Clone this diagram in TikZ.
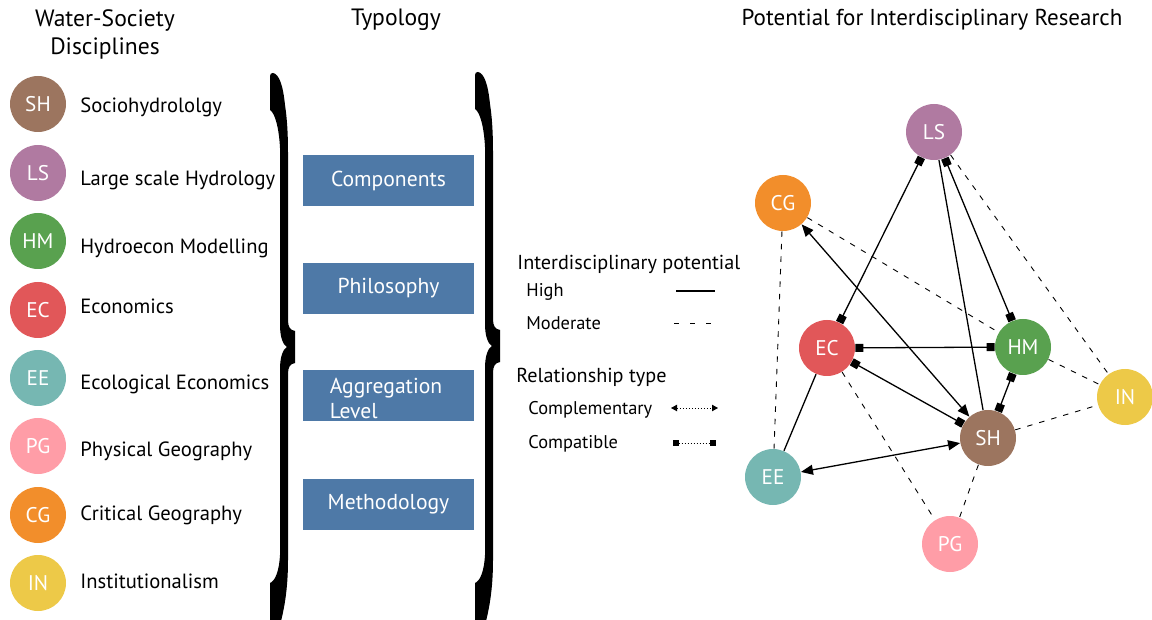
\documentclass[tikz,border=0pt]{standalone}
\usepackage{fontspec}
\setmainfont{PT Sans}
\usetikzlibrary{arrows.meta}
\definecolor{cSH}{HTML}{9C755F}
\definecolor{cLS}{HTML}{B07AA1}
\definecolor{cHM}{HTML}{59A14F}
\definecolor{cEC}{HTML}{E15759}
\definecolor{cEE}{HTML}{76B7B2}
\definecolor{cPG}{HTML}{FF9DA7}
\definecolor{cCG}{HTML}{F28E2B}
\definecolor{cIN}{HTML}{EDC948}
\definecolor{cBox}{HTML}{4E79A7}
\newcommand{\bigbrace}[4]{% x0, ytop, ymid, ybot
  \fill (#1,#2+3) .. controls (#1,#2+1) and (#1+1,#2) .. (#1+3,#2)
    .. controls (#1+9,#2+1) and (#1+13,#2+12) .. (#1+15,#2+32)
    .. controls (#1+17,#2+45) and (#1+18,#2+60) .. (#1+18,#2+80)
    -- (#1+18,#3-27) .. controls (#1+18,#3-20) and (#1+20,#3-17) .. (#1+25,#3-16)
    -- (#1+25,#3+16) .. controls (#1+20,#3+17) and (#1+18,#3+20) .. (#1+18,#3+27)
    -- (#1+18,#4-60) .. controls (#1+18,#4-30) and (#1+14,#4-10) .. (#1+10,#4+5)
    -- (#1,#4+5) -- (#1,#4-37) .. controls (#1+5,#4-39) and (#1+9,#4-48) .. (#1+10,#4-65)
    -- (#1+10,#3+22) .. controls (#1+10,#3+10) and (#1+13,#3+2) .. (#1+17,#3)
    .. controls (#1+13,#3-2) and (#1+10,#3-10) .. (#1+10,#3-22)
    -- (#1+10,#2+75) .. controls (#1+9,#2+55) and (#1+5,#2+40) .. (#1,#2+37) -- cycle;}
\begin{document}
\begin{tikzpicture}[x=0.5pt,y=-0.5pt,
  disc/.style={circle,fill=#1,minimum size=28pt,inner sep=0pt,text=white,font=\fontsize{10.6}{12}\selectfont},
  lab/.style={anchor=base west,inner sep=0pt,font=\fontsize{10.3}{12}\selectfont},
  title/.style={inner sep=0pt,align=center,font=\fontsize{11.8}{14}\selectfont},
  tybox/.style={fill=cBox,minimum width=85.5pt,minimum height=25.5pt,inner sep=0pt,text=white,font=\fontsize{10.8}{12}\selectfont},
  boxtxt/.style={inner sep=0pt,text=white,font=\fontsize{10.8}{12.5}\selectfont},
  legA/.style={anchor=west,inner sep=0pt,font=\fontsize{10.1}{12}\selectfont},
  legB/.style={anchor=west,inner sep=0pt,font=\fontsize{9.2}{11}\selectfont},
  high/.style={line width=0.65pt},
  mod/.style={line width=0.45pt,dash pattern=on 2.75pt off 3.5pt},
  compat/.style={{Square[length=4pt,width=4pt]}-{Square[length=4pt,width=4pt]}},
  compl/.style={{Triangle[length=6pt,width=5pt]}-{Triangle[length=6pt,width=5pt]}},
  dotl/.style={line width=0.4pt,dash pattern=on 0.5pt off 1pt}]
\useasboundingbox (0,0) rectangle (1152,620);
% titles
\node[title] (t1) at (105,34) {Water-Society\\Disciplines};
\node[title] (t2) at (396,20) {Typology};
\node[title,font=\fontsize{11.5}{14}\selectfont] (t3) at (932,20) {Potential for Interdisciplinary Research};
% left list
\node[disc=cSH] (lSH) at (38,104) {SH}; \node[lab] (tSH) at (80,113) {Sociohydrololgy};
\node[disc=cLS] (lLS) at (38,173) {LS}; \node[lab] (tLS) at (80,186) {Large scale Hydrology};
\node[disc=cHM] (lHM) at (38,241) {HM}; \node[lab] (tHM) at (80,254) {Hydroecon Modelling};
\node[disc=cEC] (lEC) at (38,310) {EC}; \node[lab] (tEC) at (80,314) {Economics};
\node[disc=cEE] (lEE) at (38,378) {EE}; \node[lab] (tEE) at (80,390) {Ecological Economics};
\node[disc=cPG] (lPG) at (38,446) {PG}; \node[lab] (tPG) at (80,456) {Physical Geography};
\node[disc=cCG] (lCG) at (38,515) {CG}; \node[lab] (tCG) at (80,520) {Critical Geography};
\node[disc=cIN] (lIN) at (38,583) {IN}; \node[lab] (tIN) at (80,588) {Institutionalism};
% braces
\bigbrace{270}{73}{347}{620}
\bigbrace{475}{72}{346}{620}
% typology boxes
\node[tybox] (b1) at (388.5,180.5) {Components};
\node[tybox] (b2) at (388.5,288.5) {Philosophy};
\node[tybox] (b3) at (388.5,395.5) {};
\node[boxtxt,align=left] (b3t) at (386,398) {Aggregation\\Level};
\node[tybox] (b4) at (388.5,504.5) {Methodology};
% legend
\node[legA] (lg1) at (517,264) {Interdisciplinary potential};
\node[legB] (lgH) at (526,292) {High};
\node[legB] (lgM) at (526,323) {Moderate};
\coordinate (h1) at (676,291); \coordinate (h2) at (715,291);
\draw[high] (h1) -- (h2);
\coordinate (m1) at (674,323); \coordinate (m2) at (715,323);
\draw[line width=0.45pt,dash pattern=on 2.5pt off 5.5pt] (m1) -- (m2);
\node[legA] (lg2) at (516,377) {Relationship type};
\node[legB] (lgC) at (528,410) {Complementary};
\node[legB] (lgP) at (528,444) {Compatible};
\coordinate (c1) at (671,408); \coordinate (c2) at (718,408);
\draw[dotl,{Triangle[length=3pt,width=3.2pt]}-{Triangle[length=3pt,width=3.2pt]}] (c1) -- (c2);
\coordinate (p1) at (673,443); \coordinate (p2) at (716,443);
\draw[dotl,{Square[length=3pt,width=3pt]}-{Square[length=3pt,width=3pt]}] (p1) -- (p2);
% network nodes
\node[disc=cLS] (LS) at (934,132) {LS};
\node[disc=cCG] (CG) at (783,203) {CG};
\node[disc=cEC] (EC) at (827,348) {EC};
\node[disc=cHM] (HM) at (1023,347) {HM};
\node[disc=cSH] (SH) at (988,438) {SH};
\node[disc=cIN] (IN) at (1125,397) {IN};
\node[disc=cEE] (EE) at (773,477) {EE};
\node[disc=cPG] (PG) at (950,544) {PG};
% moderate
\draw[mod] (CG) -- (EE);
\draw[mod] (CG) -- (HM);
\draw[mod] (LS) -- (IN);
\draw[mod] (HM) -- (IN);
\draw[mod] (SH) -- (IN);
\draw[mod] (EC) -- (PG);
\draw[mod] (SH) -- (PG);
% high
\draw[high,compat] (LS) -- (EC);
\draw[high,compat] (LS) -- (HM);
\draw[high] (LS) -- (SH);
\draw[high,compl] (CG) -- (SH);
\draw[high,compat] (EC) -- (HM);
\draw[high,compat] (EC) -- (SH);
\draw[high,compat] (HM) -- (SH);
\draw[high] (EC) -- (EE);
\draw[high,compl] (EE) -- (SH);
\end{tikzpicture}
\end{document}
